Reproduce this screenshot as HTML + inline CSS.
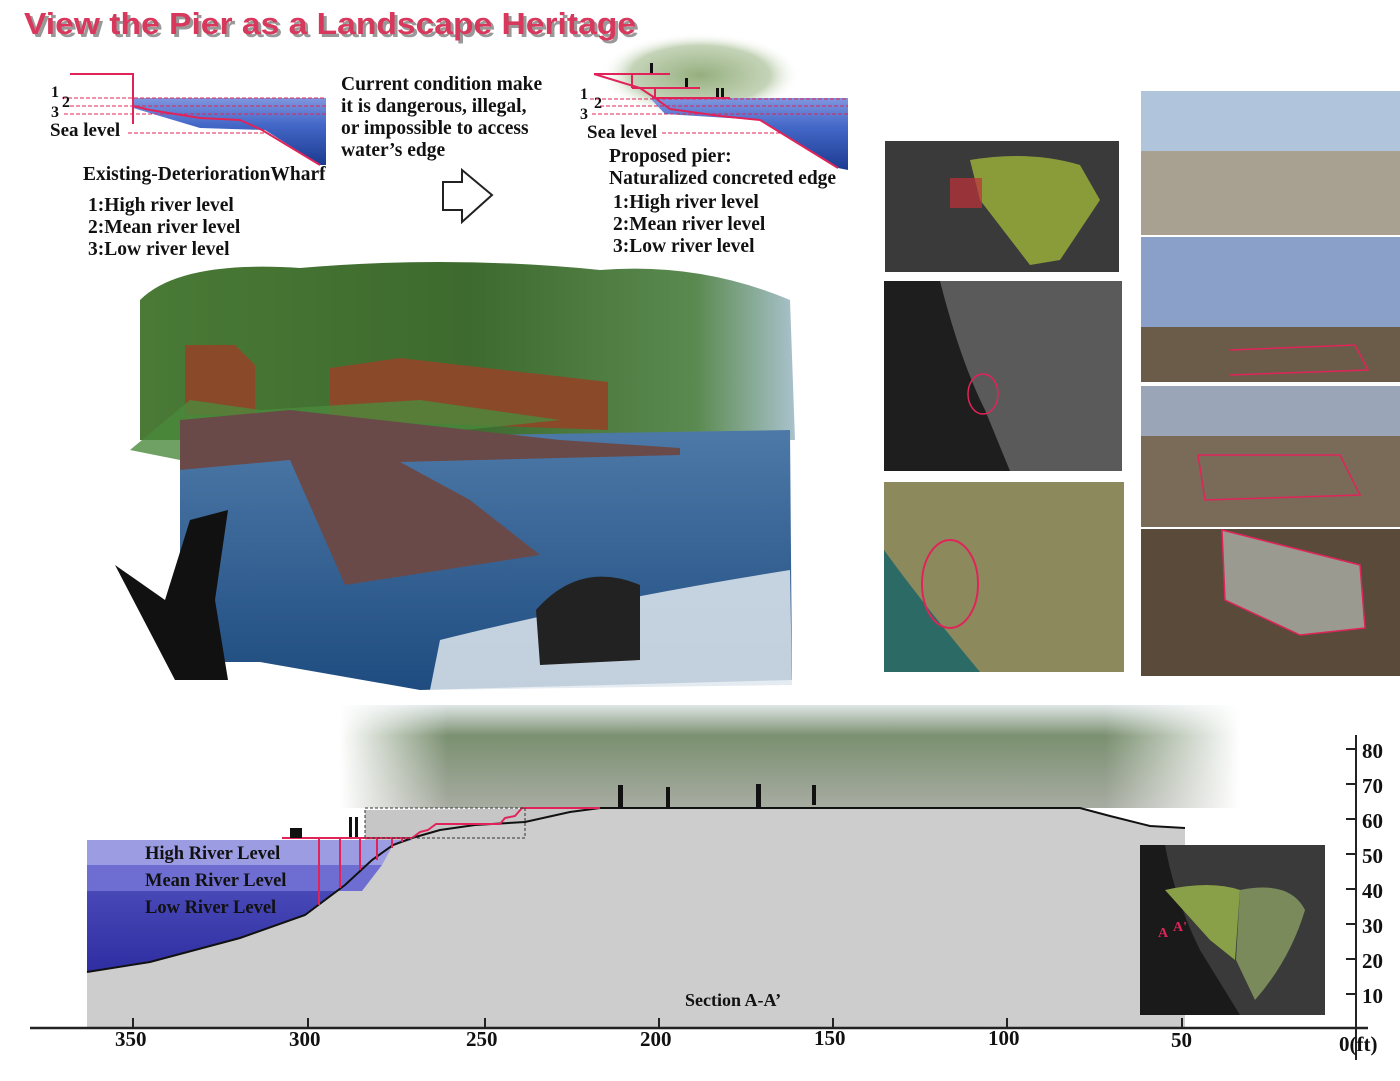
<!DOCTYPE html>
<html><head><meta charset="utf-8"><style>
html,body{margin:0;padding:0;background:#fff;}
body{width:1400px;height:1081px;position:relative;overflow:hidden;font-family:"Liberation Serif",serif;}
.t{position:absolute;font-weight:bold;color:#111;white-space:nowrap;}
</style></head><body>
<svg width="1400" height="1081" style="position:absolute;left:0;top:0" xmlns="http://www.w3.org/2000/svg">
<defs>
<linearGradient id="wb" x1="0" y1="0" x2="0" y2="1"><stop offset="0" stop-color="#7f97df"/><stop offset="0.4" stop-color="#4468c8"/><stop offset="1" stop-color="#1c3a90"/></linearGradient>
<linearGradient id="sw" x1="0" y1="0" x2="0" y2="1"><stop offset="0" stop-color="#5858c4"/><stop offset="1" stop-color="#2e2ea2"/></linearGradient>
<linearGradient id="tr" x1="0" y1="0" x2="0" y2="1"><stop offset="0" stop-color="#dfe6e6"/><stop offset="0.3" stop-color="#7a9070"/><stop offset="1" stop-color="#a8aca2"/></linearGradient>
<linearGradient id="fadeR" x1="0" y1="0" x2="1" y2="0"><stop offset="0" stop-color="#fff" stop-opacity="1"/><stop offset="0.12" stop-color="#fff" stop-opacity="0"/><stop offset="0.85" stop-color="#fff" stop-opacity="0"/><stop offset="1" stop-color="#fff" stop-opacity="1"/></linearGradient>
<linearGradient id="lake" x1="0" y1="0" x2="0" y2="1"><stop offset="0" stop-color="#4d79a8"/><stop offset="1" stop-color="#1f4c80"/></linearGradient>
<linearGradient id="forest" x1="0" y1="0" x2="1" y2="0"><stop offset="0" stop-color="#4a7a36"/><stop offset="0.5" stop-color="#3d6a2e"/><stop offset="0.85" stop-color="#5b8a50"/><stop offset="1" stop-color="#a9c2cc"/></linearGradient>
<radialGradient id="blob" cx="0.5" cy="0.5" r="0.5"><stop offset="0" stop-color="#7a9a5e" stop-opacity="0.8"/><stop offset="0.7" stop-color="#8aa870" stop-opacity="0.5"/><stop offset="1" stop-color="#fff" stop-opacity="0"/></radialGradient>
</defs>

<!-- Title -->
<text x="27" y="37" textLength="612" lengthAdjust="spacingAndGlyphs" font-family="Liberation Sans,sans-serif" font-weight="bold" font-size="31" fill="#999">View the Pier as a Landscape Heritage</text>
<text x="24" y="34" textLength="612" lengthAdjust="spacingAndGlyphs" font-family="Liberation Sans,sans-serif" font-weight="bold" font-size="31" fill="#d8385c">View the Pier as a Landscape Heritage</text>

<!-- Existing diagram -->
<polygon points="133,98 326,98 326,165 320,165 265,130 200,128 133,108" fill="url(#wb)"/>
<polyline points="70,74 133,74 133,124" fill="none" stroke="#e0245a" stroke-width="2"/>
<polyline points="133,106 150,110 200,118 240,120 262,130 320,165" fill="none" stroke="#e0245a" stroke-width="2"/>
<g stroke="#e0245a" stroke-dasharray="4,2" stroke-width="1">
<line x1="62" y1="98" x2="326" y2="98"/><line x1="64" y1="106" x2="326" y2="106"/><line x1="64" y1="114" x2="326" y2="114"/><line x1="128" y1="133" x2="265" y2="133"/></g>

<!-- Arrow -->
<polygon points="443,182 462,182 462,170 492,195 462,222 462,210 443,210" fill="#fff" stroke="#222" stroke-width="2"/>

<!-- Proposed diagram -->
<ellipse cx="700" cy="75" rx="100" ry="42" fill="url(#blob)"/>
<polygon points="650,98 848,98 848,170 838,168 760,120 665,114" fill="url(#wb)"/>
<g stroke="#e0245a" stroke-width="2" fill="none">
<polyline points="594,74 670,74"/><polyline points="594,74 640,88 655,98 670,109 720,116 760,120 838,168"/>
<line x1="632" y1="88" x2="700" y2="88"/><line x1="652" y1="98" x2="730" y2="98"/><line x1="632" y1="74" x2="632" y2="88"/><line x1="655" y1="88" x2="655" y2="98"/></g>
<g stroke="#e0245a" stroke-dasharray="4,2" stroke-width="1">
<line x1="590" y1="99" x2="848" y2="99"/><line x1="600" y1="106" x2="848" y2="106"/><line x1="592" y1="114" x2="848" y2="114"/><line x1="662" y1="133" x2="780" y2="133"/></g>
<g fill="#111"><rect x="650" y="63" width="3" height="10"/><rect x="685" y="78" width="3" height="9"/><rect x="716" y="88" width="3" height="9"/><rect x="721" y="88" width="3" height="9"/></g>

<!-- Collage -->
<path d="M140,300 Q180,260 300,268 Q450,255 600,270 Q700,262 790,300 L795,440 L140,440 Z" fill="url(#forest)"/>
<path d="M180,440 L790,430 L792,680 L420,690 L260,662 L180,662 Z" fill="url(#lake)"/>
<path d="M440,640 Q600,600 790,570 L792,685 L430,690 Z" fill="#dfe8ee" opacity="0.85"/>
<polygon points="185,345 235,345 255,365 255,415 185,415" fill="#8a4a2a"/>
<polygon points="330,368 400,358 608,382 608,430 330,420" fill="#8a4a2a"/>
<polygon points="130,450 190,400 260,410 420,400 560,420 180,460" fill="#4a8a3c" opacity="0.8"/>
<polygon points="180,420 290,410 560,440 680,448 680,455 400,462 470,500 540,555 345,585 290,460 180,470" fill="#6a4a48"/>
<path d="M536,610 Q580,560 640,585 L640,660 L540,665 Z" fill="#222"/>
<polygon points="115,565 165,600 190,520 228,510 215,600 228,680 175,680" fill="#111"/>

<!-- Aerials -->
<rect x="885" y="141" width="234" height="131" fill="#3a3a3a"/>
<path d="M970,160 Q1030,150 1080,165 L1100,200 L1060,260 L1030,265 L980,200 Z" fill="#8a9c3a"/>
<rect x="950" y="178" width="32" height="30" fill="#c0303a" opacity="0.7"/>
<rect x="884" y="281" width="238" height="190" fill="#5a5a5a"/>
<path d="M884,281 L940,281 Q960,360 985,410 L1010,471 L884,471 Z" fill="#1e1e1e"/>
<ellipse cx="983" cy="394" rx="15" ry="20" fill="none" stroke="#e0245a" stroke-width="1.5"/>
<rect x="884" y="482" width="240" height="190" fill="#8c8a5c"/>
<path d="M884,550 Q920,600 980,672 L884,672 Z" fill="#2c6a66"/>
<ellipse cx="950" cy="584" rx="28" ry="44" fill="none" stroke="#e0245a" stroke-width="2"/>

<!-- Photos column -->
<rect x="1141" y="91" width="259" height="144" fill="#a8a090"/><rect x="1141" y="91" width="259" height="60" fill="#b0c4dc"/>
<rect x="1141" y="237" width="259" height="145" fill="#6a5c48"/><rect x="1141" y="237" width="259" height="90" fill="#8aa0c8"/>
<polyline points="1230,350 1355,345 1368,370 1230,375 Z" fill="none" stroke="#e0245a" stroke-width="1.5"/>
<rect x="1141" y="386" width="259" height="141" fill="#7a6a58"/><rect x="1141" y="386" width="259" height="50" fill="#9aa6b8"/>
<polygon points="1198,455 1340,455 1360,495 1205,500" fill="none" stroke="#e0245a" stroke-width="1.5"/>
<rect x="1141" y="529" width="259" height="147" fill="#5a4a3a"/>
<polygon points="1222,530 1360,565 1365,628 1300,635 1225,600" fill="#9a9a90" stroke="#e0245a" stroke-width="1.5"/>

<!-- Section -->
<rect x="340" y="705" width="900" height="103" fill="url(#tr)"/>
<rect x="340" y="700" width="900" height="130" fill="url(#fadeR)"/>
<polygon points="87,972 150,962 240,938 305,915 345,885 372,860 393,845 412,838 440,830 475,825 525,822 570,812 600,808 1080,808 1110,816 1150,826 1185,828 1185,1028 87,1028" fill="#cdcdcd"/>
<polygon points="365,810 600,808 570,812 525,822 475,825 440,830 412,838 393,845 372,860 365,866" fill="#c6c6c6"/>
<polygon points="87,840 412,840 393,845 372,860 345,885 305,915 240,938 150,962 87,972" fill="url(#sw)"/>
<polygon points="87,840 412,840 393,845 382,865 87,865" fill="#9c9ce2"/>
<polygon points="87,865 382,865 362,891 87,891" fill="#6e6ed2"/>
<polyline points="87,972 150,962 240,938 305,915 345,885 372,860 393,845 412,838 440,830 475,825 525,822 570,812 600,808 1080,808 1110,816 1150,826 1185,828" fill="none" stroke="#111" stroke-width="2"/>
<g stroke="#e0245a" stroke-width="2" fill="none">
<line x1="282" y1="838" x2="412" y2="838"/>
<line x1="319" y1="838" x2="319" y2="905"/><line x1="340" y1="838" x2="340" y2="888"/><line x1="360" y1="838" x2="360" y2="870"/><line x1="377" y1="838" x2="377" y2="860"/><line x1="392" y1="838" x2="392" y2="848"/><line x1="402" y1="838" x2="402" y2="842"/>
<polyline points="412,838 420,832 428,830 436,824 500,824 505,818 515,816 522,808 600,808"/>
</g>
<rect x="365" y="808" width="160" height="30" fill="none" stroke="#333" stroke-dasharray="3,2" stroke-width="1"/>
<g fill="#111"><rect x="290" y="828" width="12" height="10"/><rect x="349" y="817" width="3" height="20"/><rect x="355" y="817" width="3" height="20"/>
<rect x="618" y="785" width="5" height="22"/><rect x="666" y="787" width="4" height="20"/><rect x="756" y="784" width="5" height="23"/><rect x="812" y="785" width="4" height="20"/></g>

<!-- Axes -->
<line x1="30" y1="1028" x2="1368" y2="1028" stroke="#222" stroke-width="2.5"/>
<line x1="1356" y1="735" x2="1356" y2="1060" stroke="#222" stroke-width="2"/>
<g stroke="#222" stroke-width="2">
<line x1="133" y1="1018" x2="133" y2="1028"/><line x1="308" y1="1018" x2="308" y2="1028"/><line x1="485" y1="1018" x2="485" y2="1028"/><line x1="659" y1="1018" x2="659" y2="1028"/><line x1="833" y1="1018" x2="833" y2="1028"/><line x1="1007" y1="1018" x2="1007" y2="1028"/><line x1="1182" y1="1018" x2="1182" y2="1028"/>
<line x1="1346" y1="749" x2="1356" y2="749"/><line x1="1346" y1="784" x2="1356" y2="784"/><line x1="1346" y1="819" x2="1356" y2="819"/><line x1="1346" y1="854" x2="1356" y2="854"/><line x1="1346" y1="889" x2="1356" y2="889"/><line x1="1346" y1="924" x2="1356" y2="924"/><line x1="1346" y1="959" x2="1356" y2="959"/><line x1="1346" y1="994" x2="1356" y2="994"/></g>

<!-- Locator map -->
<rect x="1140" y="845" width="185" height="170" fill="#3a3a3a"/>
<path d="M1140,845 L1165,845 Q1175,900 1200,950 L1240,1015 L1140,1015 Z" fill="#1a1a1a"/>
<path d="M1165,890 Q1210,880 1240,890 L1235,960 L1210,940 Z" fill="#8aa048"/>
<path d="M1240,890 Q1290,880 1305,910 Q1290,960 1255,1000 L1236,960 Z" fill="#7a8a5a"/>
<text x="1158" y="937" font-size="14" font-weight="bold" fill="#e0245a" font-family="Liberation Serif,serif">A</text>
<text x="1173" y="931" font-size="14" font-weight="bold" fill="#e0245a" font-family="Liberation Serif,serif">A'</text>
</svg>

<div class="t" style="left:51px;top:88px;font-size:16px;line-height:10px">1<br><br>3</div>
<div class="t" style="left:62px;top:94px;font-size:16px">2</div>
<div class="t" style="left:50px;top:120px;font-size:19px">Sea level</div>
<div class="t" style="left:83px;top:164px;font-size:19.5px">Existing-DeteriorationWharf</div>
<div class="t" style="left:88px;top:195px;font-size:19.5px;line-height:22px">1:High river level<br>2:Mean river level<br>3:Low river level</div>
<div class="t" style="left:341px;top:74px;font-size:19.5px;line-height:22px">Current condition make<br>it is dangerous, illegal,<br>or impossible to access<br>water’s edge</div>
<div class="t" style="left:580px;top:90px;font-size:16px;line-height:10px">1<br><br>3</div>
<div class="t" style="left:594px;top:95px;font-size:16px">2</div>
<div class="t" style="left:587px;top:122px;font-size:19px">Sea level</div>
<div class="t" style="left:609px;top:146px;font-size:19.5px;line-height:22px">Proposed pier:<br>Naturalized concreted edge</div>
<div class="t" style="left:613px;top:192px;font-size:19.5px;line-height:22px">1:High river level<br>2:Mean river level<br>3:Low river level</div>
<div class="t" style="left:145px;top:841px;font-size:18.5px;line-height:27px">High River Level<br>Mean River Level<br>Low River Level</div>
<div class="t" style="left:685px;top:990px;font-size:18px">Section A-A’</div>
<div class="t" style="left:115px;top:1027px;font-size:21px">350</div>
<div class="t" style="left:289px;top:1027px;font-size:21px">300</div>
<div class="t" style="left:466px;top:1027px;font-size:21px">250</div>
<div class="t" style="left:640px;top:1027px;font-size:21px">200</div>
<div class="t" style="left:814px;top:1026px;font-size:21px">150</div>
<div class="t" style="left:988px;top:1026px;font-size:21px">100</div>
<div class="t" style="left:1171px;top:1028px;font-size:21px">50</div>
<div class="t" style="left:1339px;top:1032px;font-size:21px">0(ft)</div>
<div class="t" style="left:1362px;top:734px;font-size:21px;line-height:35px">80<br>70<br>60<br>50<br>40<br>30<br>20<br>10</div>
</body></html>
